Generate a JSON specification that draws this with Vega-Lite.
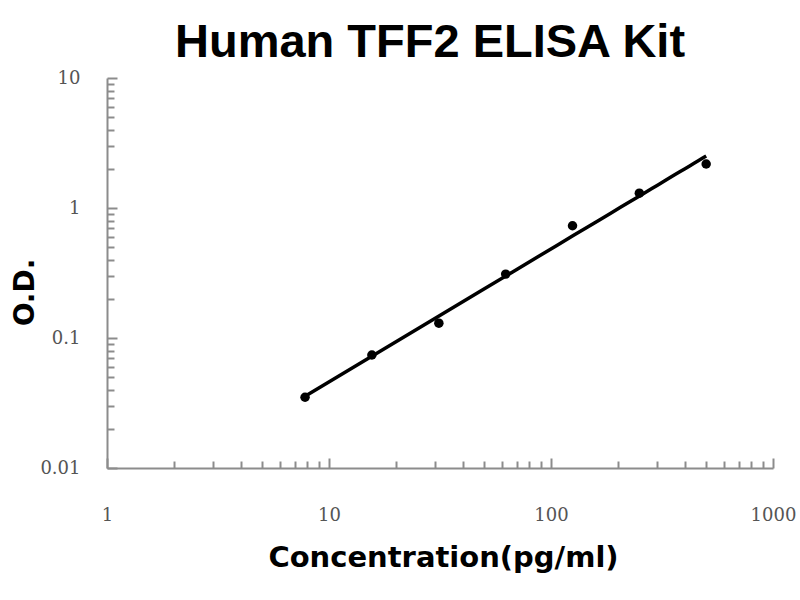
{
  "$schema": "https://vega.github.io/schema/vega-lite/v6.json",
  "autosize": {"type": "none"},
  "padding": {"left": 107, "top": 78, "right": 27, "bottom": 132},
  "width": 666,
  "height": 390,
  "background": "#ffffff",
  "view": {"stroke": null},
  "title": {
    "text": "Human TFF2 ELISA Kit",
    "font": "Liberation Sans",
    "fontSize": 47,
    "fontWeight": "bold",
    "color": "#000000",
    "anchor": "middle",
    "dx": -10,
    "offset": 2
  },
  "data": {
    "values": [
      {"conc": 7.8, "od": 0.035},
      {"conc": 15.6, "od": 0.074},
      {"conc": 31.25, "od": 0.13},
      {"conc": 62.5, "od": 0.31},
      {"conc": 125, "od": 0.73},
      {"conc": 250, "od": 1.3},
      {"conc": 500, "od": 2.18}
    ]
  },
  "encoding": {
    "x": {
      "field": "conc",
      "type": "quantitative",
      "scale": {"type": "log", "domain": [1, 1000], "nice": false},
      "axis": {
        "title": "Concentration(pg/ml)",
        "titleFont": "DejaVu Sans",
        "titleFontSize": 29,
        "titleFontWeight": "bold",
        "titleColor": "#000000",
        "titlePadding": 16,
        "titleX": 336,
        "values": [1, 2, 3, 4, 5, 6, 7, 8, 9, 10, 20, 30, 40, 50, 60, 70, 80, 90, 100, 200, 300, 400, 500, 600, 700, 800, 900, 1000],
        "format": "d",
        "labelExpr": "indexof([1, 10, 100, 1000], datum.value) >= 0 ? datum.label : ''",
        "labelFont": "DejaVu Serif",
        "labelFontSize": 18,
        "labelColor": "#555555",
        "labelPadding": 48,
        "labelFlush": false,
        "labelOverlap": false,
        "grid": false,
        "domainColor": "#8c8c8c",
        "domainWidth": 2,
        "tickColor": "#8c8c8c",
        "tickWidth": 2,
        "tickSize": {"condition": {"test": "indexof([1, 10, 100, 1000], datum.value) >= 0", "value": -10}, "value": -7}
      }
    },
    "y": {
      "field": "od",
      "type": "quantitative",
      "scale": {"type": "log", "domain": [0.01, 10], "nice": false},
      "axis": {
        "title": "O.D.",
        "titleFont": "DejaVu Sans",
        "titleFontSize": 28,
        "titleFontWeight": "bold",
        "titleColor": "#000000",
        "titlePadding": 0,
        "titleY": 214,
        "values": [0.01, 0.02, 0.03, 0.04, 0.05, 0.06, 0.07, 0.08, 0.09, 0.1, 0.2, 0.3, 0.4, 0.5, 0.6, 0.7, 0.8, 0.9, 1, 2, 3, 4, 5, 6, 7, 8, 9, 10],
        "format": "~g",
        "labelExpr": "indexof([0.01, 0.1, 1, 10], datum.value) >= 0 ? datum.label : ''",
        "labelFont": "DejaVu Serif",
        "labelFontSize": 18,
        "labelColor": "#555555",
        "labelPadding": 37,
        "labelFlush": false,
        "labelOverlap": false,
        "grid": false,
        "domainColor": "#8c8c8c",
        "domainWidth": 2,
        "tickColor": "#8c8c8c",
        "tickWidth": 2,
        "tickSize": {"condition": {"test": "indexof([0.01, 0.1, 1, 10], datum.value) >= 0", "value": -10}, "value": -7}
      }
    }
  },
  "layer": [
    {
      "transform": [{"regression": "od", "on": "conc", "method": "pow"}],
      "mark": {"type": "line", "color": "#000000", "strokeWidth": 3.5}
    },
    {
      "mark": {"type": "circle", "color": "#000000", "opacity": 1, "size": 90}
    }
  ]
}
